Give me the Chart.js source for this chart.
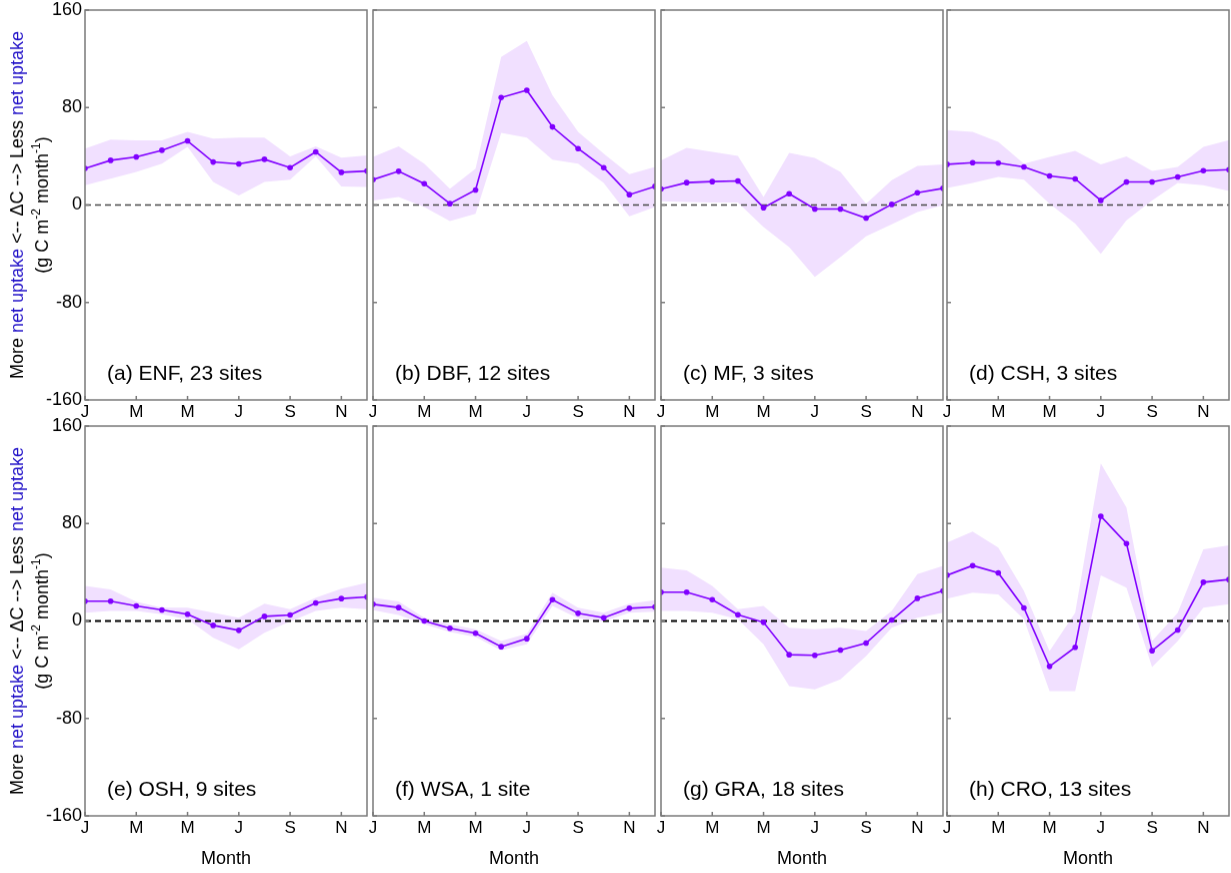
<!DOCTYPE html>
<html><head><meta charset="utf-8">
<script src="https://cdn.jsdelivr.net/npm/chart.js@4/dist/chart.umd.min.js"></script>
<style>
html,body{margin:0;padding:0;background:#fff;overflow:hidden;width:1231px;height:873px;position:relative}
canvas{position:absolute}
</style>
</head><body>
<script>
// ---- data ----
const monthIndex = [0,1,2,3,4,5,6,7,8,9,10,11];
const monthTickValues = [0,2,4,6,8,10];
const monthTickLabels = ['J','M','M','J','S','N'];
const yTickValues = [-160,-80,0,80,160];
const panelTitles = ['(a) ENF, 23 sites','(b) DBF, 12 sites','(c) MF, 3 sites','(d) CSH, 3 sites',
                     '(e) OSH, 9 sites','(f) WSA, 1 site','(g) GRA, 18 sites','(h) CRO, 13 sites'];

const meanENF  = [30, 36.7, 39.5, 44.9, 52.6, 35.3, 33.7, 37.5, 30.7, 43.6, 26.8, 27.9];
const upperENF = [46.3, 53.7, 53, 53, 60, 54.5, 55.3, 55.3, 40, 48.2, 38.9, 40.8];
const lowerENF = [16.2, 21.6, 27.1, 34, 47.7, 18.9, 7.9, 18.9, 20.8, 40, 15.3, 14.8];

const meanDBF  = [20.8, 27.7, 17.5, 1.1, 12.3, 88.2, 94.2, 64.1, 46.3, 30.7, 8.5, 15.3];
const upperDBF = [39.5, 48.2, 34, 13.4, 29.9, 121.6, 134.8, 90.1, 60, 42.2, 25.2, 31.2];
const lowerDBF = [3.8, 6.6, -1.6, -13.2, -7.1, 59.2, 55.3, 37.3, 34, 18.1, -9.3, -1.6];

const meanMF  = [13.2, 18.4, 19.2, 19.7, -2.2, 9.3, -3.3, -3.3, -10.7, 0.5, 10.1, 13.7];
const upperMF = [36.7, 46.8, 43.6, 40.3, 6.6, 42.7, 38.6, 27.1, 1.1, 20.3, 32.1, 33.4];
const lowerMF = [3, 2.5, 2, 2, -18, -34.5, -59, -42.7, -25.8, -15.9, -5.8, -0.3];

const meanCSH  = [33.4, 34.8, 34.5, 31.2, 23.8, 21.4, 3.8, 18.9, 18.9, 23, 28.2, 29];
const upperCSH = [61.4, 60, 51.8, 34, 39.5, 44.4, 33.4, 40, 27.9, 31.2, 47.7, 53.2];
const lowerCSH = [14, 18.1, 23, 20.8, 1.1, -15.3, -40, -12.6, 3.8, 18.1, 16.2, 11.5];

const meanOSH  = [16.2, 16.2, 12.3, 9, 5.5, -3.6, -7.7, 3.8, 4.9, 14.8, 18.4, 19.7];
const upperOSH = [28.8, 26, 15.9, 11, 11, 6.8, 2.7, 14.2, 9.6, 19.2, 26.6, 31.5];
const lowerOSH = [6.8, 8.2, 8.2, 5.5, 1.4, -13.7, -23.3, -9.6, -0.5, 8.2, 11, 9.6];

const meanWSA  = [13.7, 11, 0, -6, -10.1, -21.1, -14.5, 17.5, 6.3, 2.7, 10.4, 11.5];
const upperWSA = [19.2, 16, 2.7, -2.7, -6.8, -16.4, -10.4, 23.3, 11, 6.8, 14.2, 17];
const lowerWSA = [8.8, 4.9, -2.7, -9, -13.2, -24.1, -19.2, 12.3, 2.2, -0.5, 6.8, 7.7];

const meanGRA  = [23.6, 23.6, 17.5, 5.2, -1.1, -27.7, -28.2, -23.8, -18.1, 0.8, 18.6, 24.7];
const upperGRA = [43.8, 41.6, 28.8, 9.6, 12.3, -5.5, -6.8, -5.5, -8.2, 8.2, 38.4, 45.2];
const lowerGRA = [8.2, 8.2, 6.8, 1.4, -19.2, -53.4, -56.2, -47.9, -28.8, -5.5, 2.7, 6.8];

const meanCRO  = [37.5, 45.5, 39.5, 10.7, -37.3, -21.6, 86, 63.6, -24.4, -7.4, 31.8, 34];
const upperCRO = [64.4, 73.4, 60.3, 24.7, -24.7, 6.8, 129.3, 93.2, -16.4, 6.8, 58.9, 62.2];
const lowerCRO = [18.4, 23.3, 21.9, 1.4, -57.5, -57.5, 37.5, 27.4, -37.8, -16.4, 11, 13.7];

const panelMeans  = [meanENF, meanDBF, meanMF, meanCSH, meanOSH, meanWSA, meanGRA, meanCRO];
const panelUppers = [upperENF, upperDBF, upperMF, upperCSH, upperOSH, upperWSA, upperGRA, upperCRO];
const panelLowers = [lowerENF, lowerDBF, lowerMF, lowerCSH, lowerOSH, lowerWSA, lowerGRA, lowerCRO];

// ---- style / layout ----
const FONT = "'Liberation Sans', Arial, sans-serif";
const LINE = '#8000ff';
const BAND = '#f1e0ff';
const BLUE = '#2212c8';
const colLeft = [85, 373, 661, 947];
const rowTop = [10, 426];
const PW = 282, PH = 389.5;
const T = 20, R = 15;

function toXY(arr){ return arr.map((v,i)=>({x: monthIndex[i], y: v})); }

const decorPlugin = {
  id: 'decor',
  beforeDatasetDraw(chart, args, opts) {
    if (args.index !== 0) return;
    const {ctx, chartArea: a, scales: {y}} = chart;
    const y0 = y.getPixelForValue(0);
    ctx.save();
    ctx.beginPath(); ctx.rect(a.left, a.top, a.right - a.left, a.bottom - a.top); ctx.clip();
    ctx.strokeStyle = opts.row === 0 ? '#4a4a4a' : '#000';
    ctx.lineWidth = opts.row === 0 ? 1.3 : 1.8;
    ctx.setLineDash([6, 4]);
    ctx.beginPath(); ctx.moveTo(a.left, y0); ctx.lineTo(a.right, y0); ctx.stroke();
    ctx.restore();
  },
  afterDraw(chart, args, opts) {
    const {ctx, chartArea: a, scales: {x, y}} = chart;
    ctx.save();
    ctx.strokeStyle = '#7a7a7a';
    ctx.lineWidth = 1.5;
    ctx.strokeRect(a.left, a.top, a.right - a.left, a.bottom - a.top);
    ctx.beginPath();
    yTickValues.forEach(v => { const p = y.getPixelForValue(v); ctx.moveTo(a.left, p); ctx.lineTo(a.left + 4, p); });
    monthTickValues.forEach(v => { const p = x.getPixelForValue(v); ctx.moveTo(p, a.bottom); ctx.lineTo(p, a.bottom - 4); });
    ctx.stroke();
    // panel title
    ctx.fillStyle = '#000';
    ctx.font = '21px ' + FONT;
    ctx.textBaseline = 'middle';
    ctx.textAlign = 'left';
    ctx.fillText(opts.title, a.left + 22, a.bottom - 26);
    if (opts.row === 1) {
      ctx.font = '18px ' + FONT;
      ctx.textAlign = 'center';
      ctx.fillText('Month', (a.left + a.right) / 2, a.bottom + 43);
    }
    if (opts.col === 0) {
      const cy = (a.top + a.bottom) / 2;
      // line 1: mixed colours
      const segs = [['More ', '#000'], ['net uptake', BLUE], [' <-- \u0394C --> Less ', '#000'], ['net uptake', BLUE]];
      ctx.save();
      ctx.translate(18, cy);
      ctx.rotate(-Math.PI / 2);
      ctx.font = '18px ' + FONT;
      ctx.textAlign = 'left';
      let total = segs.reduce((s, g) => s + ctx.measureText(g[0]).width, 0);
      let xx = -total / 2;
      segs.forEach(g => { ctx.fillStyle = g[1]; ctx.fillText(g[0], xx, 0); xx += ctx.measureText(g[0]).width; });
      ctx.restore();
      // line 2 with superscripts
      const parts = [['(g C m', 0], ['-2', 1], [' month', 0], ['-1', 1], [')', 0]];
      ctx.save();
      ctx.translate(43, cy);
      ctx.rotate(-Math.PI / 2);
      ctx.textAlign = 'left';
      ctx.fillStyle = '#000';
      const fnt = p => (p ? '12px ' : '18px ') + FONT;
      total = parts.reduce((s, p) => { ctx.font = fnt(p[1]); return s + ctx.measureText(p[0]).width; }, 0);
      xx = -total / 2;
      parts.forEach(p => { ctx.font = fnt(p[1]); ctx.fillText(p[0], xx, p[1] ? -6 : 0); xx += ctx.measureText(p[0]).width; });
      ctx.restore();
    }
    ctx.restore();
  }
};

for (let k = 0; k < 8; k++) {
  const row = Math.floor(k / 4), col = k % 4;
  const L = col === 0 ? colLeft[0] : 15;
  const B = row === 0 ? 30 : 60;
  const cv = document.createElement('canvas');
  const w = L + PW + R, h = T + PH + B;
  cv.width = w; cv.height = h;
  cv.style.width = w + 'px'; cv.style.height = h + 'px';
  cv.style.left = (colLeft[col] - L) + 'px';
  cv.style.top = (rowTop[row] - T) + 'px';
  cv.style.zIndex = 10 - k;
  document.body.appendChild(cv);
  new Chart(cv, {
    type: 'line',
    data: {
      datasets: [
        { data: toXY(panelMeans[k]), borderColor: LINE, borderWidth: 1.6, pointRadius: 2.8,
          pointBackgroundColor: LINE, pointBorderWidth: 0, fill: false, tension: 0 },
        { data: toXY(panelUppers[k]), borderColor: 'rgba(0,0,0,0)', borderWidth: 0, pointRadius: 0,
          backgroundColor: BAND, fill: '+1', tension: 0 },
        { data: toXY(panelLowers[k]), borderColor: 'rgba(0,0,0,0)', borderWidth: 0, pointRadius: 0,
          fill: false, tension: 0 }
      ]
    },
    options: {
      responsive: false, animation: false, devicePixelRatio: 1,
      layout: { padding: { top: T, right: R, left: 0, bottom: 0 } },
      plugins: { legend: { display: false }, tooltip: { enabled: false },
                 decor: { row, col, title: panelTitles[k] } },
      scales: {
        x: { type: 'linear', min: 0, max: 11,
             afterBuildTicks: s => { s.ticks = monthTickValues.map(v => ({ value: v })); },
             afterFit: s => { s.height = B; },
             grid: { display: false, drawTicks: false }, border: { display: false },
             ticks: { autoSkip: false, maxRotation: 0, padding: 2, color: '#000',
                      font: { size: 17, family: FONT },
                      callback: v => { const i = monthTickValues.indexOf(v); return i >= 0 ? monthTickLabels[i] : ''; } } },
        y: { min: -160, max: 160,
             afterBuildTicks: s => { s.ticks = yTickValues.map(v => ({ value: v })); },
             afterFit: s => { s.width = L; },
             grid: { display: false, drawTicks: false }, border: { display: false },
             ticks: { display: col === 0, padding: 3, color: '#000', font: { size: 18, family: FONT } } }
      }
    },
    plugins: [decorPlugin]
  });
}
</script>
</body></html>
